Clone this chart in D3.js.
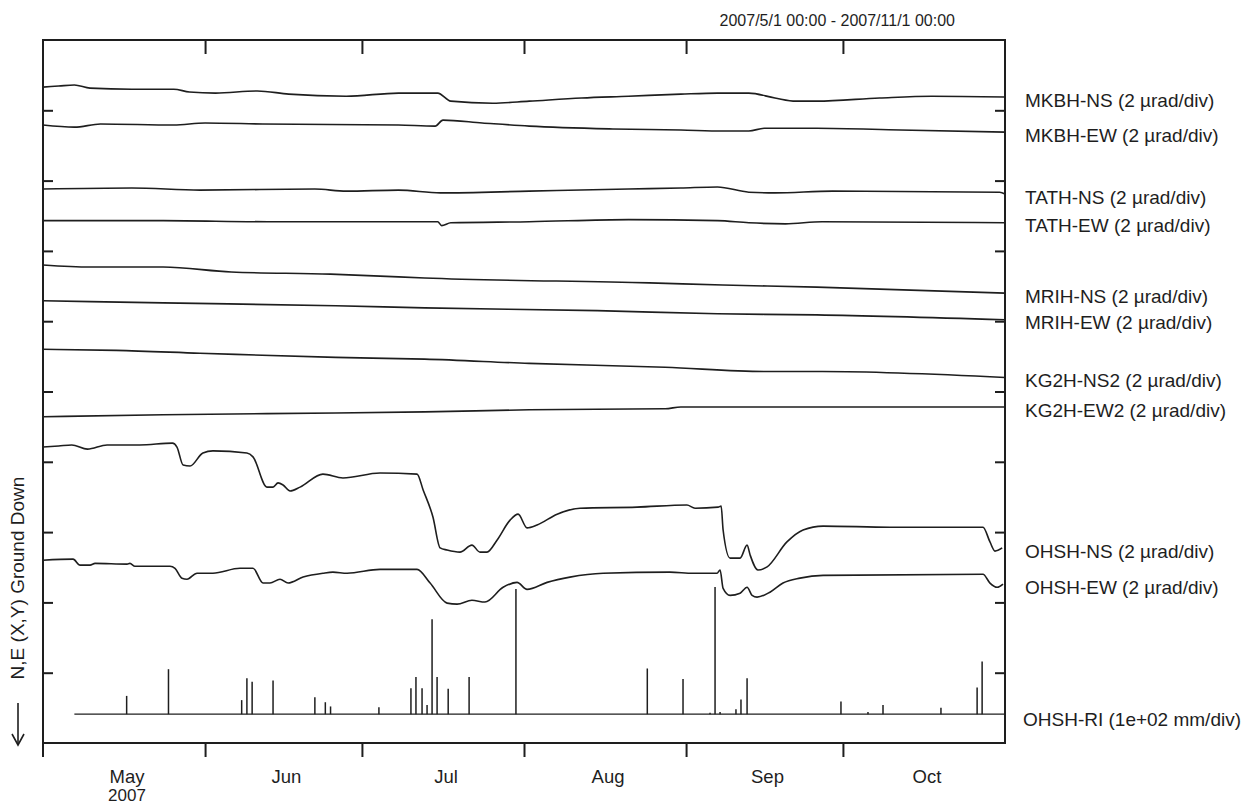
<!DOCTYPE html>
<html><head><meta charset="utf-8">
<script src="https://cdn.jsdelivr.net/npm/d3@7"></script>
<style>
body{margin:0;background:#fff}
text{font-family:"Liberation Sans",Arial,Helvetica,sans-serif;fill:#1e1e1e}
</style>
</head><body>
<svg id="c" width="1245" height="807"></svg>
<script>
// ---------------- data ----------------
const titleText = "2007/5/1 00:00 - 2007/11/1 00:00";
const periodStart = "2007-05-01 00", periodEnd = "2007-11-01 00";
const monthStarts = ["2007-05-01 00","2007-06-01 00","2007-07-01 00","2007-08-01 00","2007-09-01 00","2007-10-01 00","2007-11-01 00"];
const monthLabels = ["May","Jun","Jul","Aug","Sep","Oct"];
const yearLabel = "2007";
const yAxisLabel = "N,E (X,Y) Ground Down";
const yDivTicks = [1,2,3,4,5,6,7,8,9];

const seriesNames = ["MKBH-NS","MKBH-EW","TATH-NS","TATH-EW","MRIH-NS","MRIH-EW","KG2H-NS2","KG2H-EW2","OHSH-NS","OHSH-EW"];
const seriesScaleText = "(2 µrad/div)";
const rainName = "OHSH-RI", rainScaleText = "(1e+02 mm/div)";
// trace baseline (in divisions from bottom of frame)
const seriesBaseDiv = [9.33,8.79,7.88,7.43,6.80,6.29,5.60,4.64,4.21,2.60];
const rainBaseDiv = 0.41;
const uradPerDiv = 2, mmPerDiv = 100;

// tilt values, µrad relative to start
const MKBH_NS = [["2007-05-01 00",0],["2007-05-04 00",0.03],["2007-05-07 00",0.06],["2007-05-10 00",-0.03],["2007-05-18 00",-0.06],["2007-05-26 00",-0.06],["2007-05-29 00",-0.14],["2007-06-03 00",-0.17],["2007-06-11 00",-0.11],["2007-06-17 00",-0.2],["2007-06-28 00",-0.26],["2007-07-08 00",-0.17],["2007-07-15 12",-0.17],["2007-07-18 00",-0.4],["2007-07-26 00",-0.46],["2007-08-02 00",-0.4],["2007-08-12 00",-0.31],["2007-08-21 00",-0.26],["2007-08-31 00",-0.2],["2007-09-07 00",-0.17],["2007-09-13 00",-0.17],["2007-09-18 00",-0.31],["2007-09-22 00",-0.4],["2007-09-26 00",-0.4],["2007-10-08 00",-0.31],["2007-10-18 00",-0.26],["2007-11-01 00",-0.28]];
const MKBH_EW = [["2007-05-01 00",0],["2007-05-07 00",-0.06],["2007-05-12 00",0.03],["2007-05-26 00",0],["2007-06-01 00",0.06],["2007-06-12 00",0.03],["2007-07-08 00",0],["2007-07-15 00",-0.03],["2007-07-16 12",0.14],["2007-07-24 00",0.06],["2007-08-02 00",-0.03],["2007-08-18 00",-0.11],["2007-08-31 00",-0.14],["2007-09-08 00",-0.17],["2007-09-13 00",-0.17],["2007-09-16 00",-0.09],["2007-09-26 00",-0.09],["2007-10-12 00",-0.14],["2007-11-01 00",-0.2]];
const TATH_NS = [["2007-05-01 00",0],["2007-05-18 00",0.03],["2007-05-31 00",-0.03],["2007-06-22 00",0],["2007-06-28 00",-0.06],["2007-07-08 00",-0.03],["2007-07-16 00",-0.11],["2007-08-02 00",-0.06],["2007-08-21 00",0],["2007-08-31 00",0.03],["2007-09-07 00",0.06],["2007-09-13 00",-0.09],["2007-09-18 00",-0.11],["2007-09-29 00",-0.06],["2007-10-31 00",-0.09],["2007-11-01 00",-0.14]];
const TATH_EW = [["2007-05-01 00",0],["2007-05-24 00",0],["2007-06-13 00",-0.03],["2007-07-08 00",-0.03],["2007-07-15 12",-0.03],["2007-07-16 06",-0.14],["2007-07-18 00",-0.06],["2007-08-02 00",-0.03],["2007-08-21 00",0.03],["2007-09-07 00",0],["2007-09-13 00",-0.06],["2007-09-20 00",-0.09],["2007-09-27 00",-0.03],["2007-11-01 00",-0.06]];
const MRIH_NS = [["2007-05-01 00",0],["2007-05-10 00",-0.06],["2007-05-24 00",-0.06],["2007-06-06 00",-0.2],["2007-06-25 00",-0.26],["2007-07-08 00",-0.34],["2007-07-13 00",-0.37],["2007-08-25 00",-0.51],["2007-09-08 00",-0.57],["2007-09-26 00",-0.63],["2007-11-01 00",-0.8]];
const MRIH_EW = [["2007-05-01 00",0],["2007-05-24 00",-0.06],["2007-06-26 00",-0.14],["2007-07-13 00",-0.2],["2007-08-15 00",-0.28],["2007-09-07 00",-0.37],["2007-09-26 00",-0.4],["2007-11-01 00",-0.54]];
const KG2H_NS2 = [["2007-05-01 00",0],["2007-05-15 00",-0.03],["2007-05-31 00",-0.11],["2007-06-26 00",-0.23],["2007-07-13 00",-0.28],["2007-08-02 00",-0.4],["2007-08-28 00",-0.51],["2007-09-16 00",-0.63],["2007-09-27 00",-0.63],["2007-11-01 00",-0.8]];
const KG2H_EW2 = [["2007-05-01 00",0],["2007-05-24 00",0.06],["2007-06-26 00",0.11],["2007-07-13 00",0.14],["2007-08-02 00",0.2],["2007-08-28 00",0.23],["2007-08-31 00",0.28],["2007-09-27 00",0.28],["2007-11-01 00",0.28]];
const OHSH_NS = [["2007-05-01 00",0],["2007-05-04 00",0.03],["2007-05-06 12",0.06],["2007-05-09 12",-0.06],["2007-05-13 06",0.06],["2007-05-19 12",0.06],["2007-05-25 18",0.11],["2007-05-26 15",0],["2007-05-27 19",-0.51],["2007-05-29 03",-0.54],["2007-05-31 14",-0.17],["2007-06-02 12",-0.11],["2007-06-09 00",-0.17],["2007-06-10 04",-0.28],["2007-06-12 20",-1.14],["2007-06-14 00",-1.14],["2007-06-14 23",-1.02],["2007-06-15 22",-1.08],["2007-06-17 06",-1.25],["2007-06-19 04",-1.14],["2007-06-23 13",-0.77],["2007-06-27 09",-0.88],["2007-07-04 11",-0.74],["2007-07-11 13",-0.77],["2007-07-12 17",-1.22],["2007-07-14 14",-1.99],["2007-07-15 23",-2.87],["2007-07-17 07",-2.93],["2007-07-19 18",-2.99],["2007-07-22 01",-2.79],["2007-07-23 14",-2.99],["2007-07-24 22",-2.99],["2007-07-26 20",-2.65],["2007-07-29 08",-2.08],["2007-07-30 21",-1.91],["2007-08-01 14",-2.30],["2007-08-03 12",-2.22],["2007-08-07 08",-1.91],["2007-08-11 17",-1.74],["2007-08-22 15",-1.71],["2007-09-01 04",-1.65],["2007-09-02 17",-1.74],["2007-09-07 03",-1.71],["2007-09-07 17",-1.68],["2007-09-08 02",-2.36],["2007-09-09 10",-3.16],["2007-09-11 08",-3.16],["2007-09-12 16",-2.79],["2007-09-13 06",-3.07],["2007-09-14 18",-3.5],["2007-09-16 12",-3.41],["2007-09-20 07",-2.70],["2007-09-23 09",-2.36],["2007-09-27 05",-2.25],["2007-10-10 00",-2.28],["2007-10-27 19",-2.28],["2007-10-29 03",-2.70],["2007-10-30 02",-2.96],["2007-10-31 11",-2.87]];
const OHSH_EW = [["2007-05-01 00",0],["2007-05-06 18",0.03],["2007-05-08 02",-0.14],["2007-05-10 00",-0.14],["2007-05-10 23",-0.09],["2007-05-17 02",-0.11],["2007-05-17 15",-0.09],["2007-05-18 14",-0.17],["2007-05-25 07",-0.17],["2007-05-26 06",-0.23],["2007-05-27 14",-0.51],["2007-05-28 13",-0.54],["2007-05-30 11",-0.37],["2007-06-02 12",-0.37],["2007-06-07 16",-0.23],["2007-06-10 04",-0.23],["2007-06-12 02",-0.65],["2007-06-13 10",-0.65],["2007-06-15 08",-0.54],["2007-06-16 21",-0.65],["2007-06-19 18",-0.48],["2007-06-23 13",-0.37],["2007-06-25 11",-0.34],["2007-06-28 04",-0.37],["2007-07-04 11",-0.26],["2007-07-11 13",-0.26],["2007-07-14 01",-0.65],["2007-07-17 07",-1.22],["2007-07-19 05",-1.25],["2007-07-22 01",-1.14],["2007-07-24 13",-1.19],["2007-07-28 00",-0.77],["2007-07-30 16",-0.63],["2007-08-01 14",-0.83],["2007-08-05 10",-0.63],["2007-08-09 19",-0.48],["2007-08-16 03",-0.37],["2007-08-28 22",-0.34],["2007-09-02 08",-0.37],["2007-09-06 22",-0.37],["2007-09-07 12",-0.28],["2007-09-08 02",-0.80],["2007-09-09 10",-1.0],["2007-09-11 08",-0.94],["2007-09-12 16",-0.77],["2007-09-13 15",-1.0],["2007-09-14 14",-1.05],["2007-09-17 01",-0.91],["2007-09-19 13",-0.65],["2007-09-22 19",-0.51],["2007-09-27 05",-0.43],["2007-10-27 19",-0.40],["2007-10-29 03",-0.65],["2007-10-30 12",-0.77],["2007-10-31 15",-0.68]];
const seriesData = [MKBH_NS,MKBH_EW,TATH_NS,TATH_EW,MRIH_NS,MRIH_EW,KG2H_NS2,KG2H_EW2,OHSH_NS,OHSH_EW];

// rainfall (mm)
const rainRecordStart = "2007-05-07 00";
const rainDates = ["2007-05-17 00","2007-05-25 00","2007-06-08 00","2007-06-09 00","2007-06-10 00","2007-06-14 00","2007-06-22 00","2007-06-24 00","2007-06-25 00","2007-07-04 06","2007-07-10 09","2007-07-11 08","2007-07-12 12","2007-07-13 11","2007-07-14 10","2007-07-15 09","2007-07-17 12","2007-07-21 12","2007-07-30 11","2007-08-24 14","2007-08-31 10","2007-09-05 14","2007-09-06 13","2007-09-07 12","2007-09-10 13","2007-09-11 12","2007-09-12 16","2007-09-30 15","2007-10-05 19","2007-10-08 16","2007-10-19 18","2007-10-26 16","2007-10-27 15"];
const rainMm = [26,64,20,51,46,48,24,17,11,10,37,53,37,13,135,53,36,53,178,65,50,2,181,3,7,21,51,18,3,13,9,38,75];

// ---------------- drawing ----------------
const parse = d3.utcParse("%Y-%m-%d %H");
const svg = d3.select("#c");
const L = 43, R = 1005, T = 40, B = 743;
const x = d3.scaleUtc().domain([parse(periodStart), parse(periodEnd)]).range([L, R]);
const y = d3.scaleLinear().domain([0, 10]).range([B, T]);
const ink = "#1e1e1e";

// title
svg.append("text").attr("x", 955).attr("y", 26).attr("text-anchor", "end")
  .style("font-size", "16px").text(titleText);

// axes
const inner = monthStarts.slice(1, -1).map(parse);
const gb = svg.append("g").attr("transform", `translate(0,${B})`)
  .call(d3.axisBottom(x).tickValues(inner).tickSize(14).tickFormat(""));
const gt = svg.append("g").attr("transform", `translate(0,${T})`)
  .call(d3.axisBottom(x).tickValues(inner).tickSize(14).tickFormat(""));
const gl = svg.append("g").attr("transform", `translate(${L},0)`)
  .call(d3.axisRight(y).tickValues(yDivTicks).tickSize(10).tickFormat(""));
const gr = svg.append("g").attr("transform", `translate(${R},0)`)
  .call(d3.axisLeft(y).tickValues(yDivTicks).tickSize(10).tickFormat(""));
[gb, gt, gl, gr].forEach(g => {
  g.select(".domain").remove();
  g.selectAll(".tick line").attr("stroke", ink).attr("stroke-width", 2);
});

// frame
svg.append("rect").attr("x", L).attr("y", T).attr("width", R - L).attr("height", B - T)
  .attr("fill", "none").attr("stroke", ink).attr("stroke-width", 2);
svg.append("line").attr("x1", L).attr("x2", L).attr("y1", B).attr("y2", B + 14)
  .attr("stroke", ink).attr("stroke-width", 2);

// month labels
monthLabels.forEach((m, i) => {
  const a = parse(monthStarts[i]), b = parse(monthStarts[i + 1]);
  const cx = x(new Date((+a + +b) / 2)) + 3;
  svg.append("text").attr("x", cx).attr("y", 783).attr("text-anchor", "middle")
    .style("font-size", "18.5px").text(m);
  if (i === 0) svg.append("text").attr("x", cx).attr("y", 801).attr("text-anchor", "middle")
    .style("font-size", "17px").text(yearLabel);
});

// y label with arrow
const yl = svg.append("g").attr("transform", "translate(24,578) rotate(-90)");
yl.append("text").attr("x", 0).attr("y", 0).attr("text-anchor", "middle")
  .style("font-size", "19px").text(yAxisLabel);
svg.append("line").attr("x1", 18).attr("x2", 18).attr("y1", 703).attr("y2", 743)
  .attr("stroke", ink).attr("stroke-width", 1.6);
svg.append("path").attr("d", "M12,734 L18,745 L24,734").attr("fill", "none")
  .attr("stroke", ink).attr("stroke-width", 1.6);

// tilt traces
const line = d3.line().x(d => x(parse(d[0]))).y(d => d[1]).curve(d3.curveMonotoneX);
seriesData.forEach((s, i) => {
  const pts = s.map(d => [d[0], y(seriesBaseDiv[i] + d[1] / uradPerDiv)]);
  svg.append("path").attr("d", line(pts)).attr("fill", "none")
    .attr("stroke", ink).attr("stroke-width", 1.6).attr("stroke-linejoin", "round");
  const last = pts[pts.length - 1][1];
  svg.append("text").attr("x", 1025).attr("y", last + 3).attr("dy", "0.35em")
    .style("font-size", "19px").text(`${seriesNames[i]} ${seriesScaleText}`);
});

// rainfall
const yr = v => y(rainBaseDiv + v / mmPerDiv);
svg.append("line").attr("x1", x(parse(rainRecordStart))).attr("x2", R)
  .attr("y1", yr(0)).attr("y2", yr(0)).attr("stroke", ink).attr("stroke-width", 1.3);
svg.append("g").selectAll("line").data(rainDates.map((d, i) => [parse(d), rainMm[i]]))
  .join("line")
  .attr("x1", d => x(d[0])).attr("x2", d => x(d[0]))
  .attr("y1", yr(0)).attr("y2", d => yr(d[1]))
  .attr("stroke", ink).attr("stroke-width", 1.5);
svg.append("text").attr("x", 1023).attr("y", yr(0) + 5).attr("dy", "0.35em")
  .style("font-size", "19px").text(`${rainName} ${rainScaleText}`);
</script>
</body></html>
